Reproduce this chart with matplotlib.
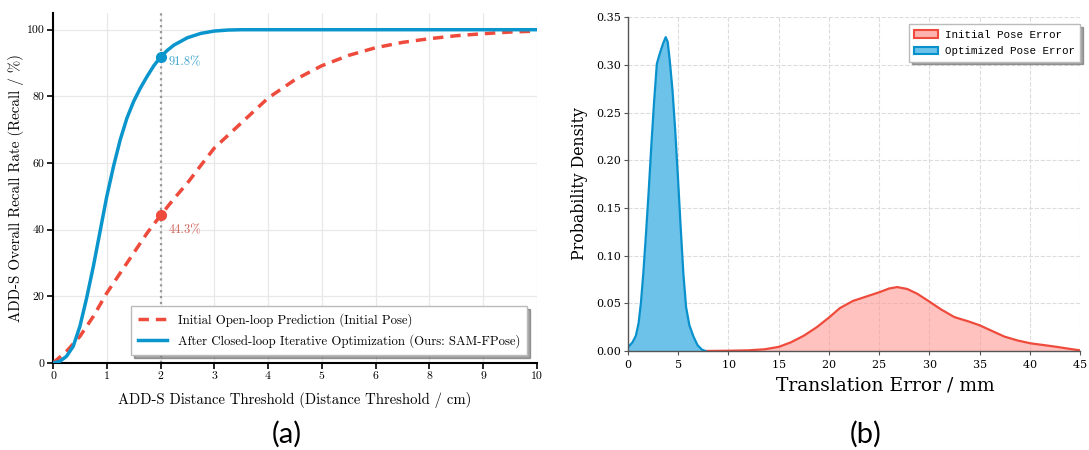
import numpy as np
import matplotlib
matplotlib.use("Agg")
import matplotlib.pyplot as plt

plt.rcParams['axes.formatter.use_mathtext'] = True

# (a) recall curves, x in tick-position units
tick_labels_a = ["0", "1", "2", "3", "4", "5", "6", "8", "9", "10"]
x_init_a = [0, 0.25, 0.5, 0.75, 1.0, 1.25, 1.5, 1.75, 2.0, 2.25, 2.5, 2.75, 3.0,
            3.5, 4.0, 4.5, 5.0, 5.5, 6.0, 6.5, 7.0, 7.5, 8.0, 8.5, 9.0]
recall_initial = [0, 3.5, 8, 14, 21, 27, 33, 39, 44.3, 49.3, 54, 59.3, 64.5,
                  72, 79.5, 85, 89.2, 92.3, 94.6, 96.2, 97.3, 98.2, 98.8, 99.3, 99.6]
x_ours_a = [0, 0.125, 0.25, 0.375, 0.5, 0.625, 0.75, 0.875, 1.0, 1.125, 1.25,
            1.375, 1.5, 1.625, 1.75, 1.875, 2.0, 2.125, 2.25, 2.5, 2.75, 3.0,
            3.25, 3.5, 4, 5, 6, 7, 8, 9]
recall_ours = [0, 0.5, 2, 5, 11, 19.5, 29, 39.5, 50, 59, 67, 73.5, 78.5, 82.5,
               86, 89.2, 91.8, 93.8, 95.4, 97.6, 98.9, 99.6, 99.9, 100, 100, 100,
               100, 100, 100, 100]
thr_pos = 2.0
thr_initial = 44.3
thr_ours = 91.8

# (b) translation error densities
x_opt = [0, 0.44, 0.78, 1.05, 1.28, 1.52, 1.79, 2.06, 2.33, 2.6, 2.87, 3.14,
         3.48, 3.75, 3.95, 4.16, 4.43, 4.7, 4.97, 5.24, 5.51, 5.78, 6.11, 6.52,
         6.93, 7.36, 7.7]
dens_opt = [0.004, 0.009, 0.016, 0.029, 0.050, 0.081, 0.123, 0.168, 0.217,
            0.262, 0.301, 0.311, 0.322, 0.329, 0.324, 0.304, 0.273, 0.231, 0.182,
            0.130, 0.081, 0.046, 0.027, 0.015, 0.006, 0.0014, 0.0]
x_init = [7.5, 10, 12, 13.6, 15, 16.2, 17.5, 18.8, 20, 21.1, 22.4, 23.7, 25, 26,
          26.8, 27.8, 28.8, 29.9, 31.2, 32.5, 33.9, 35, 36.1, 37.5, 38.8, 40.1,
          41.4, 42.7, 44, 45]
dens_init = [0.0, 0.0003, 0.0007, 0.0018, 0.0043, 0.009, 0.016, 0.025, 0.035,
             0.045, 0.0525, 0.057, 0.0615, 0.0655, 0.067, 0.065, 0.060, 0.0525,
             0.0434, 0.0355, 0.031, 0.027, 0.0217, 0.015, 0.011, 0.008, 0.0062,
             0.0043, 0.0022, 0.0007]

red = '#ee4b3c'
blue = '#0a96cd'

fig = plt.figure(figsize=(10.89, 4.5), dpi=100)

# ---------- (a)
ax1 = fig.add_axes([0.0487, 0.1933, 0.4443, 0.7777])
cm = 'cmr10'
ax1.plot(x_init_a, recall_initial, color=red, lw=2.5, ls=(0, (3, 2)),
         label='Initial Open-loop Prediction (Initial Pose)', zorder=3)
ax1.plot(x_ours_a, recall_ours, color=blue, lw=2.5,
         label='After Closed-loop Iterative Optimization (Ours: SAM-FPose)', zorder=3)
ax1.axvline(thr_pos, color='#999999', ls=':', lw=1.6, zorder=2)
ax1.plot([thr_pos], [thr_ours], 'o', color=blue, ms=7, zorder=4)
ax1.plot([thr_pos], [thr_initial], 'o', color=red, ms=7, zorder=4)
ax1.text(thr_pos + 0.15, thr_ours - 1.5, '91.8%', color='#3aa3cc', fontsize=9,
         family=cm, va='center')
ax1.text(thr_pos + 0.15, thr_initial - 4.5, '44.3%', color='#d0665c', fontsize=9,
         family=cm, va='center')
ax1.set_xlim(0, 9)
ax1.set_ylim(0, 105)
ax1.set_xticks(range(len(tick_labels_a)))
ax1.set_xticklabels(tick_labels_a, family=cm, fontsize=8.5)
ax1.set_yticks([0, 20, 40, 60, 80, 100])
ax1.set_yticklabels(['0', '20', '40', '60', '80', '100'], family=cm, fontsize=8.5)
ax1.grid(True, color='#e8e8e8', lw=0.9)
ax1.set_axisbelow(True)
for s in ['top', 'right']:
    ax1.spines[s].set_visible(False)
for s in ['left', 'bottom']:
    ax1.spines[s].set_linewidth(1.5)
ax1.tick_params(length=4, width=1.2, pad=2)
ax1.set_xlabel('ADD-S Distance Threshold (Distance Threshold / cm)', family=cm,
               fontsize=10.6, labelpad=8)
ax1.set_ylabel('ADD-S Overall Recall Rate (Recall / %)', family=cm, fontsize=10.8,
               labelpad=2)
ax1.legend(loc='lower right', prop={'family': cm, 'size': 9.2},
           shadow=True, fancybox=False, framealpha=1, edgecolor='#bbbbbb',
           handlelength=2.3, borderpad=0.55, labelspacing=0.55,
           bbox_to_anchor=(0.993, 0.005))

# ---------- (b)
ax2 = fig.add_axes([0.5767, 0.22, 0.4150, 0.742])
ax2.fill_between(x_init, dens_init, color='#ff9a94', alpha=0.6, lw=0)
ax2.plot(x_init, dens_init, color=red, lw=1.6)
ax2.fill_between(x_opt, dens_opt, color='#6cc2e8', lw=0)
ax2.plot(x_opt, dens_opt, color='#0891cc', lw=1.6)
h1 = plt.Rectangle((0, 0), 1, 1, facecolor='#ffb3af', edgecolor=red, lw=1.5)
h2 = plt.Rectangle((0, 0), 1, 1, facecolor='#6cc2e8', edgecolor='#0891cc', lw=1.5)
ax2.legend([h1, h2], ['Initial Pose Error', 'Optimized Pose Error'],
           loc='upper right', prop={'family': 'Liberation Mono', 'size': 7.8},
           shadow=True, fancybox=False, framealpha=1, edgecolor='#bbbbbb',
           borderpad=0.5, handlelength=2.2, labelspacing=0.6, handletextpad=0.6,
           bbox_to_anchor=(1.012, 0.995))
ax2.set_xlim(0, 45)
ax2.set_ylim(0, 0.35)
ax2.set_xticks(range(0, 46, 5))
ax2.set_yticks(np.arange(0, 0.351, 0.05))
ax2.set_yticklabels(['%.2f' % v for v in np.arange(0, 0.351, 0.05)])
for lab in ax2.get_xticklabels() + ax2.get_yticklabels():
    lab.set_family('DejaVu Serif')
    lab.set_fontsize(8)
ax2.grid(True, color='#dcdcdc', ls='--', lw=0.8)
ax2.set_axisbelow(True)
for s in ['top', 'right']:
    ax2.spines[s].set_visible(False)
for s in ['left', 'bottom']:
    ax2.spines[s].set_color('#555555')
    ax2.spines[s].set_linewidth(1.0)
ax2.tick_params(length=3, width=0.8, color='#555555', pad=2)
ax2.set_xlabel('Translation Error / mm', family='DejaVu Serif', fontsize=13.5)
ax2.xaxis.set_label_coords(0.569, -0.075)
ax2.set_ylabel('Probability Density', family='DejaVu Serif', fontsize=11.3,
               labelpad=6)

fig.text(0.2635, 0.034, '(a)', family='Lato', fontsize=21, ha='center', va='center')
fig.text(0.795, 0.034, '(b)', family='Lato', fontsize=21, ha='center', va='center')

fig.savefig('out.png', dpi=100, facecolor='white')
